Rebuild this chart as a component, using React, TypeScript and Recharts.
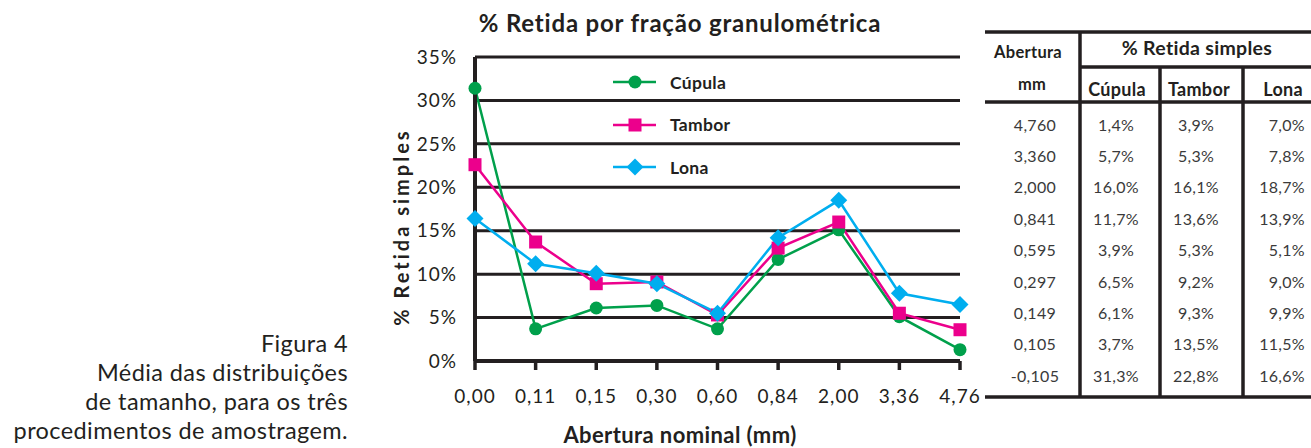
import { CartesianGrid, Legend, Line, LineChart, XAxis, YAxis } from "recharts";

const INK = "#231f20";
const FONT = "Lato, 'Open Sans', sans-serif";

// x categories (nominal opening, mm) and the three sampling methods
const aberturas = ["0,00", "0,11", "0,15", "0,30", "0,60", "0,84", "2,00", "3,36", "4,76"];
const cupula = [31.4, 3.7, 6.1, 6.4, 3.7, 11.7, 15.1, 5.1, 1.3];
const tambor = [22.6, 13.7, 8.9, 9.1, 5.3, 13.0, 16.0, 5.5, 3.6];
const lona = [16.4, 11.2, 10.1, 8.9, 5.5, 14.2, 18.5, 7.8, 6.5];
const yTicks = [0, 5, 10, 15, 20, 25, 30, 35];

// side table, as printed
const tabAbertura = ["4,760", "3,360", "2,000", "0,841", "0,595", "0,297", "0,149", "0,105", "-0,105"];
const tabCupula = ["1,4%", "5,7%", "16,0%", "11,7%", "3,9%", "6,5%", "6,1%", "3,7%", "31,3%"];
const tabTambor = ["3,9%", "5,3%", "16,1%", "13,6%", "5,3%", "9,2%", "9,3%", "13,5%", "22,8%"];
const tabLona = ["7,0%", "7,8%", "18,7%", "13,9%", "5,1%", "9,0%", "9,9%", "11,5%", "16,6%"];

const caption = [
  "Figura 4",
  "Média das distribuições",
  "de tamanho, para os três",
  "procedimentos de amostragem.",
];

const data = aberturas.map((x, i) => ({
  x,
  cupula: cupula[i],
  tambor: tambor[i],
  lona: lona[i],
}));

type Shape = "circle" | "square" | "diamond";

const series: { key: string; name: string; color: string; shape: Shape }[] = [
  { key: "cupula", name: "Cúpula", color: "#00a04b", shape: "circle" },
  { key: "tambor", name: "Tambor", color: "#ec008c", shape: "square" },
  { key: "lona", name: "Lona", color: "#00aeef", shape: "diamond" },
];

function marker(shape: Shape, cx: number, cy: number, color: string, key?: string) {
  if (shape === "circle") return <circle key={key} cx={cx} cy={cy} r={6.5} fill={color} />;
  if (shape === "square")
    return <rect key={key} x={cx - 6.5} y={cy - 6.5} width={13} height={13} fill={color} />;
  const d = 8.5;
  return (
    <polygon
      key={key}
      points={`${cx},${cy - d} ${cx + d},${cy} ${cx},${cy + d} ${cx - d},${cy}`}
      fill={color}
    />
  );
}

function LegendBox() {
  return (
    <div style={{ fontFamily: FONT }}>
      {series.map((s) => (
        <div key={s.key} style={{ display: "flex", alignItems: "center", height: 42.5 }}>
          <svg width={44} height={20} style={{ display: "block" }}>
            <line x1={0} y1={10} x2={43} y2={10} stroke={s.color} strokeWidth={2.5} />
            {marker(s.shape, 22, 10, s.color)}
          </svg>
          <span
            style={{ marginLeft: 13, fontWeight: 700, fontSize: 17.5, letterSpacing: 0.3, color: INK }}
          >
            {s.name}
          </span>
        </div>
      ))}
    </div>
  );
}

function SideTable() {
  const rowY = (i: number) => 124 + i * 31.4;
  const txt = { fontFamily: FONT, fill: INK } as const;
  return (
    <svg width={1311} height={448} style={{ position: "absolute", left: 0, top: 0 }}>
      <g stroke={INK} strokeWidth={3.5}>
        <line x1={985} y1={32} x2={1311} y2={32} />
        <line x1={1080} y1={32} x2={1080} y2={398} />
        <line x1={1080} y1={67} x2={1311} y2={67} />
        <line x1={1160} y1={67} x2={1160} y2={398} />
        <line x1={1243} y1={67} x2={1243} y2={398} />
        <line x1={985} y1={102} x2={1311} y2={102} />
        <line x1={985} y1={397} x2={1311} y2={397} />
      </g>
      <g {...txt} fontWeight={700} dominantBaseline="central" letterSpacing={0.3}>
        <text x={1028} y={52} fontSize={16.5} textAnchor="middle">Abertura</text>
        <text x={1032} y={84} fontSize={16.5} textAnchor="middle">mm</text>
        <text x={1197} y={47} fontSize={19.5} textAnchor="middle">% Retida simples</text>
        <text x={1117} y={89} fontSize={18} textAnchor="middle">Cúpula</text>
        <text x={1199} y={89} fontSize={18} textAnchor="middle">Tambor</text>
        <text x={1303} y={89} fontSize={18} textAnchor="end">Lona</text>
      </g>
      <g {...txt} fontSize={16} dominantBaseline="central" fill="#3a3a3a" letterSpacing={0.3}>
        {tabAbertura.map((v, i) => (
          <text key={"a" + i} x={1035} y={rowY(i)} textAnchor="middle">{v}</text>
        ))}
        {tabCupula.map((v, i) => (
          <text key={"c" + i} x={1116} y={rowY(i)} textAnchor="middle">{v}</text>
        ))}
        {tabTambor.map((v, i) => (
          <text key={"t" + i} x={1196} y={rowY(i)} textAnchor="middle">{v}</text>
        ))}
        {tabLona.map((v, i) => (
          <text key={"l" + i} x={1305} y={rowY(i)} textAnchor="end">{v}</text>
        ))}
      </g>
    </svg>
  );
}

export default function App() {
  const tick = { fontSize: 19, fill: INK, fontFamily: FONT, letterSpacing: 1 };
  return (
    <div
      style={{
        position: "absolute",
        left: 0,
        top: 0,
        width: 1311,
        height: 448,
        background: "#fff",
        overflow: "hidden",
        fontFamily: FONT,
        color: INK,
      }}
    >
      <div
        style={{
          position: "absolute",
          right: 1311 - 348,
          top: 329,
          textAlign: "right",
          fontSize: 23.5,
          letterSpacing: 0.4,
          lineHeight: "29px",
          whiteSpace: "nowrap",
          fontWeight: 400,
        }}
      >
        {caption.map((line) => (
          <div key={line}>{line}</div>
        ))}
      </div>

      <div
        style={{
          position: "absolute",
          left: 430,
          width: 500,
          top: 8,
          textAlign: "center",
          fontSize: 24,
          letterSpacing: 0.8,
          fontWeight: 700,
          whiteSpace: "nowrap",
        }}
      >
        % Retida por fração granulométrica
      </div>

      <div
        style={{
          position: "absolute",
          left: 401 - 120,
          top: 227 - 12,
          width: 240,
          height: 24,
          lineHeight: "24px",
          textAlign: "center",
          fontSize: 20,
          fontWeight: 700,
          letterSpacing: 3,
          transform: "rotate(-90deg)",
          whiteSpace: "nowrap",
        }}
      >
        % Retida simples
      </div>

      <div
        style={{
          position: "absolute",
          left: 530,
          width: 300,
          top: 421,
          textAlign: "center",
          fontSize: 22,
          letterSpacing: 0.4,
          fontWeight: 700,
          whiteSpace: "nowrap",
        }}
      >
        Abertura nominal (mm)
      </div>

      <div style={{ position: "absolute", left: 380, top: 0 }}>
        <LineChart
          width={600}
          height={448}
          data={data}
          margin={{ top: 57, right: 20, bottom: 57, left: 35 }}
        >
          <CartesianGrid horizontal vertical={false} stroke={INK} strokeWidth={3} />
          <XAxis
            dataKey="x"
            height={30}
            axisLine={{ stroke: INK, strokeWidth: 4 }}
            tickLine={{ stroke: INK, strokeWidth: 3.5 }}
            tickSize={9}
            tickMargin={20}
            tick={tick}
            interval={0}
          />
          <YAxis
            width={60}
            domain={[0, 35]}
            ticks={yTicks}
            tickFormatter={(v: number) => `${v}%`}
            axisLine={{ stroke: INK, strokeWidth: 4 }}
            tickLine={false}
            tickSize={0}
            tickMargin={18}
            tick={tick}
          />
          <Legend
            layout="vertical"
            align="center"
            verticalAlign="middle"
            content={() => <LegendBox />}
            wrapperStyle={{ position: "absolute", left: 233, top: 61, width: 200 }}
          />
          {series.map((s) => (
            <Line
              key={s.key}
              type="linear"
              dataKey={s.key}
              name={s.name}
              stroke={s.color}
              strokeWidth={2.5}
              isAnimationActive={false}
              dot={(p: any) => marker(s.shape, p.cx, p.cy, s.color, `${s.key}-${p.index}`)}
              activeDot={false}
            />
          ))}
        </LineChart>
      </div>

      <SideTable />
    </div>
  );
}
